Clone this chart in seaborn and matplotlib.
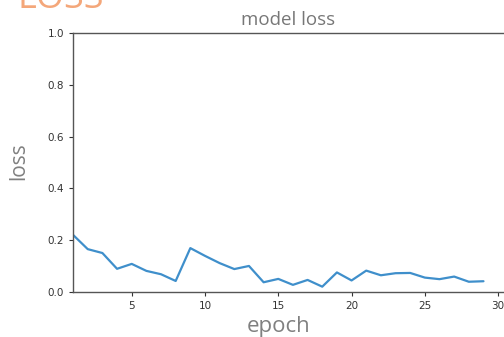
import pandas as pd
import seaborn as sns
import matplotlib.pyplot as plt

epochs = list(range(1, 30))
loss = [0.220, 0.165, 0.150, 0.089, 0.108, 0.081, 0.068, 0.042, 0.169, 0.139,
        0.111, 0.088, 0.100, 0.037, 0.050, 0.027, 0.046, 0.020, 0.075, 0.044,
        0.082, 0.064, 0.072, 0.073, 0.055, 0.049, 0.059, 0.039, 0.041]

df = pd.DataFrame({'epoch': epochs, 'loss': loss})

sns.set_style('ticks')
plt.rcParams['font.family'] = ['DejaVu Sans']

fig = plt.figure(figsize=(5.04, 3.37), dpi=100)
ax = fig.add_axes([0.145, 0.134, 0.855, 0.768])

sns.lineplot(data=df, x='epoch', y='loss', color='#3f8fcb', linewidth=1.6, ax=ax)

ax.set_xlim(1, 30.4)
ax.set_ylim(0, 1.0)
ax.set_xticks([5, 10, 15, 20, 25, 30])
ax.set_yticks([0.0, 0.2, 0.4, 0.6, 0.8, 1.0])
ax.tick_params(labelsize=7.5, colors='#333333', length=3)
for s in ax.spines.values():
    s.set_color('#555555')
    s.set_linewidth(1.0)
ax.spines['right'].set_visible(False)

ax.set_title('model loss', fontsize=13.5, color='#777777', family='Open Sans', pad=6)
ax.set_xlabel('epoch', fontsize=16, color='#808080', family='Open Sans')
ax.set_ylabel('loss', fontsize=15, color='#808080', family='Open Sans')
ax.xaxis.set_label_coords(0.476, -0.095)
ax.yaxis.set_label_coords(-0.102, 0.506)

fig.text(0.034, 0.976, 'LOSS', fontsize=26, color='#f4a77a', family='Open Sans', va='baseline')

fig.savefig('out.png', dpi=100)
